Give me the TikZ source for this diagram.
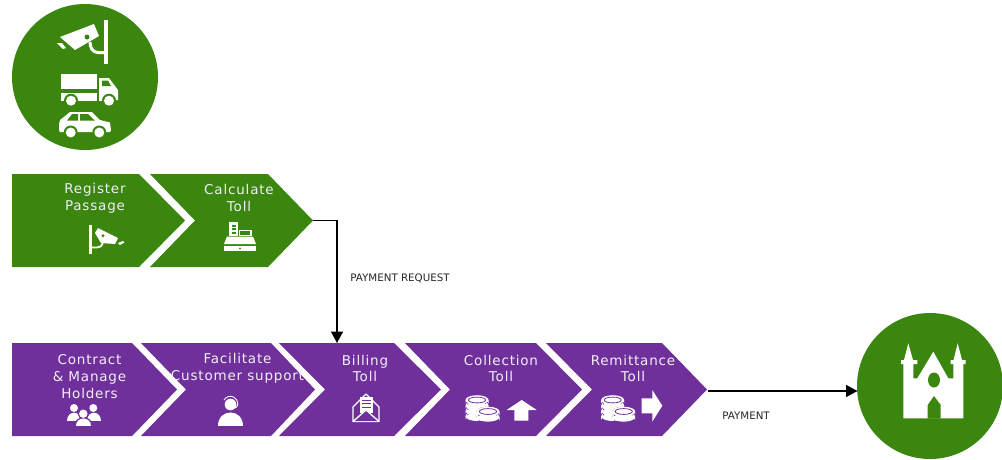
\documentclass[tikz,border=0pt]{standalone}
\usepackage{fontspec}
\setmainfont[LetterSpace=6]{DejaVu Sans}
\newfontfamily\smallf{DejaVu Sans}
\usetikzlibrary{arrows.meta}
\definecolor{tollgreen}{RGB}{59,134,15}
\definecolor{tollpurple}{RGB}{112,48,155}
\definecolor{soft}{RGB}{242,238,246}
\tikzset{
  x=1pt,y=-1pt,
  step label/.style={text=soft,font=\fontsize{13.5}{16.6}\selectfont,align=center,inner sep=0pt},
  note label/.style={text=black!85,font=\smallf\fontsize{10.3}{12}\selectfont,inner sep=0pt},
  flow/.style={line width=1.6pt,draw=black,-{Triangle[length=11.5pt,width=12pt]}},
  disc/.style={circle,fill=tollgreen,inner sep=0pt,minimum size=146pt},
  ico/.style={fill=white,draw=none},
}
% name, left, topright, tip, notch(0=flat), top, bottom, colour
\newcommand{\chevron}[8]{%
  \pgfmathsetmacro{\midy}{(#6+#7)/2}%
  \ifnum#5=0
    \fill[#8] (#2,#6) -- (#3,#6) -- (#4,\midy) -- (#3,#7) -- (#2,#7) -- cycle;
  \else
    \fill[#8] (#2,#6) -- (#3,#6) -- (#4,\midy) -- (#3,#7) -- (#2,#7) -- (#5,\midy) -- cycle;
  \fi
  \coordinate (#1) at (#4,\midy);
}
\newcommand{\coinstack}[4]{% cx, top y, layers, bg
  \foreach \k in {#3,...,0}{
    \pgfmathsetmacro{\yy}{#2+\k*5.4}
    \fill[white] (#1-11.5,\yy) -- (#1-11.5,\yy+3.4) arc[start angle=180,end angle=360,x radius=11.5,y radius=4.8] -- (#1+11.5,\yy) -- cycle;
    \draw[#4,line width=.9pt,dash pattern=on 1.1pt off 1.9pt] (#1-9.5,\yy+4.2) arc[start angle=195,end angle=345,x radius=10,y radius=3.2];
    \draw[#4,line width=.35pt] (#1-11.5,\yy+.2) arc[start angle=180,end angle=360,x radius=11.5,y radius=4.8];
    \fill[white] (#1,\yy) ellipse[x radius=11.5,y radius=4.8];
  }
  \draw[#4,line width=.8pt] (#1,#2) ellipse[x radius=8.6,y radius=2.9];
}
\newcommand{\coins}[1]{%
  \coinstack{#1+477}{400}{3}{tollpurple}
  \coinstack{#1+488}{411.5}{1}{tollpurple}
}
\begin{document}
\begin{tikzpicture}
\clip (0,0) rectangle (1002,459);
\fill[white] (0,0) rectangle (1002,459);

% discs
\node[disc] (start) at (85,77) {};
\node[disc] (church) at (930,386) {};

% chevrons
\chevron{reg}{12}{139}{185}{0}{174}{267}{tollgreen}
\chevron{calc}{150}{268}{313}{195}{174}{267}{tollgreen}
\chevron{con}{12}{132}{177}{0}{343}{436}{tollpurple}
\chevron{fac}{141}{271}{315}{186}{343}{436}{tollpurple}
\chevron{bil}{279}{394}{441}{325}{343}{436}{tollpurple}
\chevron{col}{405}{536}{582}{450}{343}{436}{tollpurple}
\chevron{rem}{546}{662}{707}{592}{343}{436}{tollpurple}

% connectors
\coordinate (billtop) at (337,343);
\draw[flow] (calc) -| (billtop);
\coordinate (churchin) at (857.5,391);
\coordinate (payout) at (707.5,391);
\draw[flow] (payout) -- (churchin);

% labels
\node[step label] (t1) at (95,198) {Register\\Passage};
\node[step label] (t2) at (239,198) {Calculate\\Toll};
\node[step label] (t3) at (89.5,376.5) {Contract\\\& Manage\\Holders};
\node[step label] (t4) at (237.5,368.5) {Facilitate\\Customer support};
\node[step label] (t5) at (365,368.5) {Billing\\Toll};
\node[step label] (t6) at (501,368.5) {Collection\\Toll};
\node[step label] (t7) at (633,368.5) {Remittance\\Toll};
\node[note label] (n1) at (400,278) {PAYMENT REQUEST};
\node[note label] (n2) at (746,415.5) {PAYMENT};

% large camera
\fill[white] (104,19.5) rectangle (107.5,64);
\fill[ico] (60,37) -- (94,24) -- (99,36) -- (75,50) -- cycle;
\fill[ico] (57,43) -- (62,43) -- (66,48) -- (63,49) -- cycle;
\fill[tollgreen] (87,37) circle (2.5);
\draw[white,line width=3pt] (90,42) .. controls (90,48) and (93,52.5) .. (98,52.5) -- (105,52.5);

% truck
\fill[ico] (61,74) rectangle (97,89);
\fill[ico] (61,92.5) rectangle (97,101);
\fill[ico] (99,78) -- (109,78) -- (118,90) -- (118,100) -- (99,101) -- cycle;
\fill[tollgreen] (102,80.5) -- (108,80.5) -- (111,86) -- (102,86) -- cycle;
\foreach \wx in {71,109}{
  \fill[tollgreen] (\wx,100.7) circle (7);
  \fill[white] (\wx,100.7) circle (5);
}

% car
\fill[ico] (59,124) -- (60,120) -- (70,112) -- (92,112) -- (100,120) -- (110,122.5) -- (111,130) -- (110,132) -- (60,132) -- (59,130) -- cycle;
\fill[tollgreen] (67,120.7) -- (72,114) -- (78,114) -- (78,120.7) -- cycle;
\fill[tollgreen] (80,114) -- (88,114) -- (95,120.7) -- (80,120.7) -- cycle;
\foreach \wx in {70.7,99.3}{
  \fill[tollgreen] (\wx,132.5) circle (7);
  \fill[white] (\wx,132.5) circle (5);
}

% small camera
\fill[white] (89,225) rectangle (91.6,254);
\fill[ico] (95,233) -- (98,228) -- (118,238) -- (115,244) -- (101,243) -- cycle;
\fill[ico] (118,243) -- (123,241) -- (124.5,242.5) -- (120,245) -- cycle;
\fill[tollgreen] (103,235.7) circle (1.7);
\draw[white,line width=1.8pt] (103,243) .. controls (102,246) and (100,247.5) .. (97,247.5) -- (90,247.5);

% cash register
\fill[ico] (229,222) rectangle (238,236);
\foreach \by in {224.5,228,231.5}{\fill[tollgreen] (232,\by) rectangle (236,\by+2);}
\draw[white,line width=1.2pt,fill=tollgreen] (239.5,230.5) rectangle (251,235.5);
\fill[ico] (227,236.5) -- (253,236.5) -- (256,244) -- (224,244) -- cycle;
\fill[ico] (224,246) rectangle (256,250.5);
\fill[tollgreen] (240,248.3) circle (1);

% people
\foreach \hx in {74,93.3}{\fill[ico] (\hx,408) circle (4);}
\fill[ico] (66.7,420.5) .. controls (66.7,410) and (81,410) .. (81,420.5) -- cycle;
\fill[ico] (86.5,420.5) .. controls (86.5,410) and (100.7,410) .. (100.7,420.5) -- cycle;
\fill[tollpurple] (83.3,413.7) circle (5.6);
\fill[tollpurple] (74,426.5) .. controls (74,414) and (93,414) .. (93,426.5) -- cycle;
\fill[ico] (83.3,413.7) circle (4.2);
\fill[ico] (76,426) .. controls (76,415.5) and (91,415.5) .. (91,426) -- cycle;

% support agent
\fill[ico] (218,425.5) .. controls (218,408) and (243.3,408) .. (243.3,425.5) -- cycle;
\fill[ico] (230.5,404.5) circle (5.8);
\draw[white,line width=.9pt] (224,400) arc[start angle=210,end angle=360,radius=7.4] -- (237.5,405.5) .. controls (237.5,407) and (236,408) .. (232,408);

% envelope
\draw[white,line width=1.3pt,line join=round] (353,407) -- (353,421.5) -- (379,421.5) -- (379,407) -- (366,394) -- cycle;
\fill[ico] (359.5,396.5) rectangle (373,413);
\foreach \by in {400,403.5,407}{\draw[tollpurple,line width=.9pt] (362,\by) -- (370.5,\by);}
\fill[tollpurple] (353.6,421) -- (366,409.5) -- (378.4,421) -- cycle;
\draw[white,line width=1.3pt] (353,421.5) -- (366,410) -- (379,421.5);

% coins and arrows
\coins{0}
\coins{135.7}
\fill[ico] (506.7,410) -- (521.7,400) -- (536.7,410) -- (528.3,410) -- (528.3,420.5) -- (514.3,420.5) -- (514.3,410) -- cycle;
\fill[ico] (641.7,398.3) -- (652.3,398.3) -- (652.3,390) -- (662.3,405.7) -- (652.3,421.7) -- (652.3,413.3) -- (641.7,413.3) -- cycle;

% cathedral
\fill[ico] (903.3,418.3) -- (903.3,364) -- (901,364) -- (901,360) -- (904,360) -- (908.3,343.3) -- (913,360) -- (917.3,360) -- (917.3,364) -- (913.3,364) -- (913.3,378.3) -- (917.3,378.3) -- (933.3,351.7) -- (948.3,378.3) -- (953.3,378.3) -- (953.3,364) -- (950.7,364) -- (950.7,360) -- (953.5,360) -- (957.7,343.3) -- (962,360) -- (965.7,360) -- (965.7,364) -- (963.3,364) -- (963.3,418.3) -- cycle;
\fill[tollgreen] (934,380) ellipse[x radius=6,y radius=7.5];
\fill[tollgreen] (927.7,418.5) -- (927.7,405) -- (934,396) -- (940.7,405) -- (940.7,418.5) -- cycle;
\end{tikzpicture}
\end{document}
